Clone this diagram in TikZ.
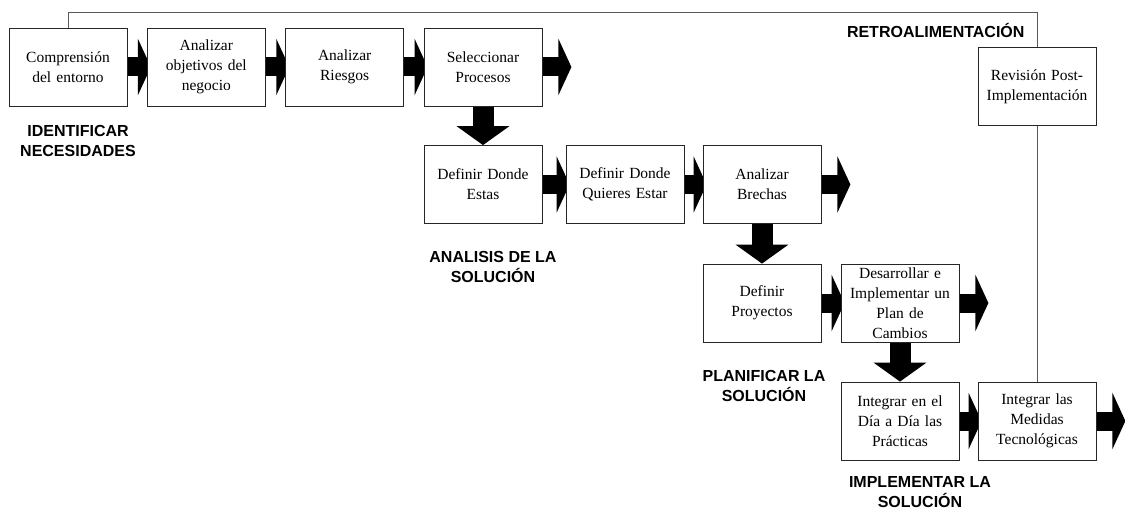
\documentclass[tikz,border=0pt]{standalone}
\usepackage{fontspec}
\setmainfont{Liberation Serif}
\newfontfamily\stagefont{Liberation Sans}
\usetikzlibrary{arrows.meta,backgrounds}
\begin{document}
\begin{tikzpicture}
        [x=1pt,y=-1pt,
         paso/.style={draw=black!85,fill=white,line width=0.8pt,minimum width=118pt,
           minimum height=78pt,inner sep=0pt,text width=114pt,align=center,
           font=\fontsize{15.5}{20}\selectfont},
         etapa/.style={align=center,font=\stagefont\bfseries\fontsize{16}{19.5}\selectfont},
         flecha/.style={line width=19pt,-{Triangle[length=13pt,width=56pt]}},
         flechabaja/.style={line width=21pt,-{Triangle[length=19pt,width=52pt]}},
         retro/.style={draw=black!65,line width=0.8pt}]
        \useasboundingbox (0,0) rectangle (1125,511);

        % identificar necesidades
        \node[paso] (comprension) at (68,67) {Comprensión\\del entorno};
        \node[paso] (objetivos) at (206.3,67) {Analizar\\objetivos del\\negocio};
        \node[paso] (riesgos) at (344.7,67) {Analizar\\Riesgos};
        \node[paso] (procesos) at (483,67) {Seleccionar\\Procesos};

        % analisis de la solucion
        \node[paso] (estas) at (483,184.5) {Definir Donde\\Estas};
        \node[paso] (quieres) at (625,184.5) {Definir Donde\\Quieres Estar};
        \node[paso] (brechas) at (762,184.5) {Analizar\\Brechas};

        % planificar la solucion
        \node[paso] (proyectos) at (762,303) {Definir\\Proyectos};
        \node[paso] (cambios) at (900,303) {Desarrollar e\\Implementar un\\Plan de\\Cambios};

        % implementar la solucion
        \node[paso] (practicas) at (900,421) {Integrar en el\\Día a Día las\\Prácticas};
        \node[paso] (medidas) at (1037,421) {Integrar las\\Medidas\\Tecnológicas};
        \node[paso] (revision) at (1037,86.5) {Revisión Post-\\Implementación};

        \node[etapa] (identificar) at (78,141) {IDENTIFICAR\\NECESIDADES};
        \node[etapa] (analisis) at (493,267) {ANALISIS DE LA\\SOLUCIÓN};
        \node[etapa] (planificar) at (764,386) {PLANIFICAR LA\\SOLUCIÓN};
        \node[etapa] (implementar) at (920,492) {IMPLEMENTAR LA\\SOLUCIÓN};
        \node[etapa,anchor=east] (retroalim) at (1028,30) {RETROALIMENTACIÓN};

        \begin{scope}[on background layer]
          \draw[flecha] (comprension.east) -- ([xshift=4pt]objetivos.west);
          \draw[flecha] (objetivos.east) -- ([xshift=4pt]riesgos.west);
          \draw[flecha] (riesgos.east) -- ([xshift=4pt]procesos.west);
          \draw[flecha] (procesos.east) -- ++(29,0);
          \draw[flecha] (estas.east) -- ([xshift=4pt]quieres.west);
          \draw[flecha] (quieres.east) -- ([xshift=4pt]brechas.west);
          \draw[flecha] (brechas.east) -- ++(29,0);
          \draw[flecha] (proyectos.east) -- ([xshift=4pt]cambios.west);
          \draw[flecha] (cambios.east) -- ++(29,0);
          \draw[flecha] (practicas.east) -- ([xshift=4pt]medidas.west);
          \draw[flecha] (medidas.east) -- ++(29,0);

          \draw[flechabaja] (procesos.south) -- (estas.north);
          \draw[flechabaja] (brechas.south) -- (proyectos.north);
          \draw[flechabaja] (cambios.south) -- (practicas.north);
        \end{scope}

        \draw[retro] (medidas.north) -- (revision.south);
        \draw[retro] (revision.north) -- ++(0,-35) -| (comprension.north);
      \end{tikzpicture}
\end{document}
